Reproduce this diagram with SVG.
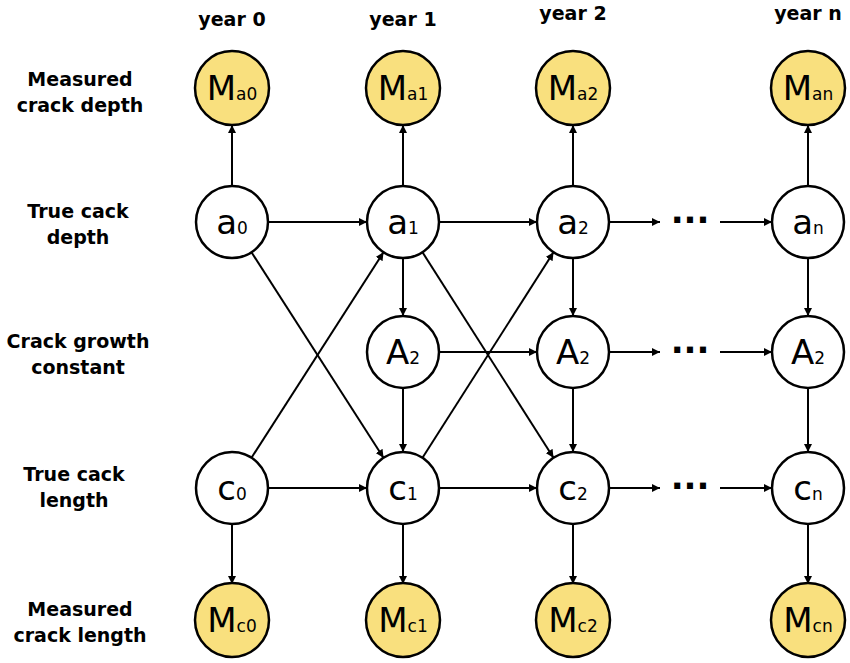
<svg xmlns="http://www.w3.org/2000/svg" width="850" height="663" viewBox="0 0 850 663">
<style>
.n{fill:#fff;stroke:#000;stroke-width:2.5}
.m{fill:#f9e07e;stroke:#000;stroke-width:2.5}
.t{font-family:"DejaVu Sans",sans-serif;font-size:34px;text-anchor:middle}
.s{font-size:17px}
.l{font-family:"DejaVu Sans",sans-serif;font-weight:bold;font-size:19px;text-anchor:middle}
.e line{stroke:#000;stroke-width:2;marker-end:url(#ar)}
.d{font-family:"DejaVu Sans",sans-serif;font-size:34px;font-weight:bold;text-anchor:middle}
</style>
<defs><marker id="ar" viewBox="0 0 10 10" refX="10" refY="5" markerWidth="8" markerHeight="8" markerUnits="userSpaceOnUse" orient="auto"><path d="M0,0L10,5L0,10z"/></marker></defs>
<rect width="850" height="663" fill="#fff"/>
<g id="labels">
<text class="l" x="232" y="26">year 0</text><text class="l" x="403" y="26">year 1</text><text class="l" x="573" y="20">year 2</text><text class="l" x="808" y="20">year n</text>
<text class="l" x="80" y="86">Measured</text><text class="l" x="80" y="112">crack depth</text>
<text class="l" x="78" y="218">True cack</text><text class="l" x="78" y="244">depth</text>
<text class="l" x="78" y="348">Crack growth</text><text class="l" x="78" y="374">constant</text>
<text class="l" x="74" y="481">True cack</text><text class="l" x="74" y="507">length</text>
<text class="l" x="80" y="616">Measured</text><text class="l" x="80" y="642">crack length</text>
</g>
<g class="e" id="connectors">
<line x1="232" y1="186" x2="232" y2="125"/><line x1="403" y1="186" x2="403" y2="125"/><line x1="573" y1="186" x2="573" y2="125"/><line x1="808" y1="186" x2="808" y2="125"/>
<line x1="268" y1="222" x2="367" y2="222"/><line x1="439" y1="222" x2="537" y2="222"/><line x1="609" y1="222" x2="660" y2="222"/><line x1="720" y1="222" x2="772" y2="222"/>
<line x1="251.5" y1="252.3" x2="383.5" y2="457.7"/><line x1="251.5" y1="457.7" x2="383.5" y2="252.3"/>
<line x1="422.5" y1="252.3" x2="553.5" y2="457.7"/><line x1="422.5" y1="457.7" x2="553.5" y2="252.3"/>
<line x1="403" y1="258" x2="403" y2="316"/><line x1="573" y1="258" x2="573" y2="316"/><line x1="808" y1="258" x2="808" y2="316"/>
<line x1="439" y1="352" x2="537" y2="352"/><line x1="609" y1="352" x2="660" y2="352"/><line x1="720" y1="352" x2="772" y2="352"/>
<line x1="403" y1="388" x2="403" y2="452"/><line x1="573" y1="388" x2="573" y2="452"/><line x1="808" y1="388" x2="808" y2="452"/>
<line x1="268" y1="488" x2="367" y2="488"/><line x1="439" y1="488" x2="537" y2="488"/><line x1="609" y1="488" x2="660" y2="488"/><line x1="720" y1="488" x2="772" y2="488"/>
<line x1="232" y1="524" x2="232" y2="584"/><line x1="403" y1="524" x2="403" y2="584"/><line x1="573" y1="524" x2="573" y2="584"/><line x1="808" y1="524" x2="808" y2="584"/>
</g>
<g id="dots"><text class="d" x="690" y="232">···</text><text class="d" x="690" y="362">···</text><text class="d" x="690" y="498">···</text></g>
<g id="Ma0"><circle class="m" cx="232" cy="88" r="37"/><text class="t" x="232" y="100">M<tspan class="s">a0</tspan></text></g>
<g id="Ma1"><circle class="m" cx="403" cy="88" r="37"/><text class="t" x="403" y="100">M<tspan class="s">a1</tspan></text></g>
<g id="Ma2"><circle class="m" cx="573" cy="88" r="37"/><text class="t" x="573" y="100">M<tspan class="s">a2</tspan></text></g>
<g id="Man"><circle class="m" cx="808" cy="88" r="37"/><text class="t" x="808" y="100">M<tspan class="s">an</tspan></text></g>
<g id="a0"><circle class="n" cx="232" cy="222" r="36"/><text class="t" x="232" y="234">a<tspan class="s">0</tspan></text></g>
<g id="a1"><circle class="n" cx="403" cy="222" r="36"/><text class="t" x="403" y="234">a<tspan class="s">1</tspan></text></g>
<g id="a2"><circle class="n" cx="573" cy="222" r="36"/><text class="t" x="573" y="234">a<tspan class="s">2</tspan></text></g>
<g id="an"><circle class="n" cx="808" cy="222" r="36"/><text class="t" x="808" y="234">a<tspan class="s">n</tspan></text></g>
<g id="A1"><circle class="n" cx="403" cy="352" r="36"/><text class="t" x="403" y="364">A<tspan class="s">2</tspan></text></g>
<g id="A2"><circle class="n" cx="573" cy="352" r="36"/><text class="t" x="573" y="364">A<tspan class="s">2</tspan></text></g>
<g id="An"><circle class="n" cx="808" cy="352" r="36"/><text class="t" x="808" y="364">A<tspan class="s">2</tspan></text></g>
<g id="c0"><circle class="n" cx="232" cy="488" r="36"/><text class="t" x="232" y="500">c<tspan class="s">0</tspan></text></g>
<g id="c1"><circle class="n" cx="403" cy="488" r="36"/><text class="t" x="403" y="500">c<tspan class="s">1</tspan></text></g>
<g id="c2"><circle class="n" cx="573" cy="488" r="36"/><text class="t" x="573" y="500">c<tspan class="s">2</tspan></text></g>
<g id="cn"><circle class="n" cx="808" cy="488" r="36"/><text class="t" x="808" y="500">c<tspan class="s">n</tspan></text></g>
<g id="Mc0"><circle class="m" cx="232" cy="620" r="37"/><text class="t" x="232" y="632">M<tspan class="s">c0</tspan></text></g>
<g id="Mc1"><circle class="m" cx="403" cy="620" r="37"/><text class="t" x="403" y="632">M<tspan class="s">c1</tspan></text></g>
<g id="Mc2"><circle class="m" cx="573" cy="620" r="37"/><text class="t" x="573" y="632">M<tspan class="s">c2</tspan></text></g>
<g id="Mcn"><circle class="m" cx="808" cy="620" r="37"/><text class="t" x="808" y="632">M<tspan class="s">cn</tspan></text></g>
</svg>
